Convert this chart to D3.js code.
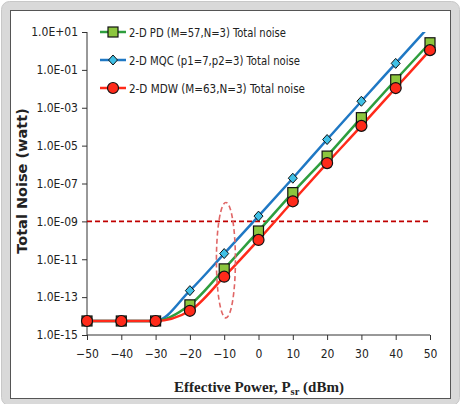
<!doctype html>
<html lang="en">
<head>
<meta charset="utf-8">
<title>Total noise vs effective power</title>
<script src="https://cdn.jsdelivr.net/npm/d3@7"></script>
<style>
  body { margin: 0; background: #fff; }
  svg { display: block; }
  .tick text { font-family: "DejaVu Sans Condensed", sans-serif; font-size: 12px; fill: #222; }
  .domain, .tick line { stroke: #333; }
</style>
</head>
<body>
<svg id="chart" width="465" height="404"></svg>
<script>
// effective power (dBm)
var power = [-50, -40, -30, -20, -10, 0, 10, 20, 30, 40, 50];
// total noise (watt)
var pdNoise  = [5.5e-15, 5.5e-15, 5.5e-15, 3.9e-14, 3.1e-12, 3.1e-10, 3.3e-8, 2.8e-6, 3.0e-4, 3.0e-2, 2.7];
var mqcNoise = [5.5e-15, 5.5e-15, 5.5e-15, 2.2e-13, 2.0e-11, 1.9e-9, 1.9e-7, 2.1e-5, 2.2e-3, 2.2e-1, 22];
var mdwNoise = [5.5e-15, 5.5e-15, 5.5e-15, 1.9e-14, 1.2e-12, 1.05e-10, 1.15e-8, 1.2e-6, 1.1e-4, 1.1e-2, 1.1];
var yTicks = [1e1, 1e-1, 1e-3, 1e-5, 1e-7, 1e-9, 1e-11, 1e-13, 1e-15];
var xTicks = [-50, -40, -30, -20, -10, 0, 10, 20, 30, 40, 50];
var threshold = 1e-9;
var legendLabels = ["2-D PD (M=57,N=3) Total noise", "2-D MQC (p1=7,p2=3) Total noise", "2-D MDW (M=63,N=3) Total noise"];
var legendWidths = [157, 171, 176];

var svg = d3.select("#chart");

// frame
svg.append("rect").attr("x", 1.5).attr("y", 1.5).attr("width", 458).attr("height", 404)
  .attr("rx", 8).attr("fill", "#d9d9d9").attr("stroke", "#c8c8c8");
svg.append("rect").attr("x", 10.5).attr("y", 10.5).attr("width", 440).attr("height", 388)
  .attr("fill", "#fff").attr("stroke", "#555").attr("stroke-width", 1);

var xScale = d3.scaleLinear().domain([-50, 50]).range([87, 430]);
var yScale = d3.scaleLog().domain([1e-15, 10]).range([335, 32]);

svg.append("defs").append("clipPath").attr("id", "plot")
  .append("rect").attr("x", 60).attr("y", 32).attr("width", 390).attr("height", 320);

// axes
var xAxis = d3.axisBottom(xScale).tickValues(xTicks).tickSize(5).tickPadding(9).tickFormat(d3.format("d"));
svg.append("g").attr("transform", "translate(0,335)").call(xAxis)
  .call(function(g) { g.select(".domain").attr("d", "M87,0H430"); });

var yAxis = d3.axisLeft(yScale).tickValues(yTicks).tickSize(5).tickPadding(4)
  .tickFormat(function(d) {
    var e = Math.round(Math.log10(d));
    return "1.0E" + (e < 0 ? "-" : "+") + d3.format("02d")(Math.abs(e));
  });
svg.append("g").attr("transform", "translate(87,0)").call(yAxis)
  .call(function(g) { g.select(".domain").attr("d", "M0,32V335"); });

// axis titles
svg.append("text").attr("transform", "translate(27,181) rotate(-90)")
  .attr("text-anchor", "middle").attr("font-family", "'DejaVu Sans', sans-serif")
  .attr("font-weight", "bold").attr("font-size", 14.5).attr("fill", "#222")
  .text("Total Noise (watt)");

var xt = svg.append("text").attr("x", 259).attr("y", 392).attr("text-anchor", "middle")
  .attr("font-family", "'Liberation Serif', 'DejaVu Serif', serif")
  .attr("font-weight", "bold").attr("font-size", 15).attr("fill", "#222");
xt.append("tspan").text("Effective Power, P");
xt.append("tspan").attr("font-size", 10.5).attr("dy", 3).text("sr");
xt.append("tspan").attr("dy", -3).text(" (dBm)");

// threshold line
svg.append("line").attr("x1", xScale(-50)).attr("x2", xScale(50))
  .attr("y1", yScale(threshold)).attr("y2", yScale(threshold))
  .attr("stroke", "#c00000").attr("stroke-width", 1.8).attr("stroke-dasharray", "5,3");

// series
var series = [
  { values: pdNoise,  line: "#2e9e3e", fill: "#8cc63e", shape: "square" },
  { values: mqcNoise, line: "#1f78c4", fill: "#3fc0e6", shape: "diamond" },
  { values: mdwNoise, line: "#ff2a1a", fill: "#ff2a1a", shape: "circle" }
];

var lineGen = d3.line().curve(d3.curveMonotoneX)
  .x(function(d, i) { return xScale(power[i]); })
  .y(function(d) { return yScale(d); });

var plot = svg.append("g").attr("clip-path", "url(#plot)");

function marker(g, shape, fill) {
  if (shape === "square") {
    g.append("rect").attr("x", -5).attr("y", -5).attr("width", 10).attr("height", 10)
      .attr("fill", fill).attr("stroke", "#111").attr("stroke-width", 1.2);
  } else if (shape === "diamond") {
    g.append("path").attr("d", "M0,-5L4.5,0L0,5L-4.5,0Z")
      .attr("fill", fill).attr("stroke", "#111").attr("stroke-width", 1);
  } else {
    g.append("circle").attr("r", 5.5)
      .attr("fill", fill).attr("stroke", "#111").attr("stroke-width", 1.2);
  }
}

// draw lines first, then markers (MQC drawn below the others like the picture)
var order = [1, 0, 2];
order.forEach(function(k) {
  var s = series[k];
  plot.append("path").attr("d", lineGen(s.values)).attr("fill", "none")
    .attr("stroke", s.line).attr("stroke-width", 2.5);
});
order.forEach(function(k) {
  var s = series[k];
  s.values.forEach(function(v, i) {
    if (v > 10) return;
    var g = plot.append("g").attr("transform", "translate(" + xScale(power[i]) + "," + yScale(v) + ")");
    marker(g, s.shape, s.fill);
  });
});

// dashed ellipse round the -10 dBm points
var eTop = yScale(1e-8), eBot = yScale(8e-15);
svg.append("ellipse").attr("cx", xScale(-9.5)).attr("cy", (eTop + eBot) / 2)
  .attr("rx", 9.5).attr("ry", (eBot - eTop) / 2)
  .attr("fill", "none").attr("stroke", "#e06666").attr("stroke-width", 1.6).attr("stroke-dasharray", "5,3");

// legend
legendLabels.forEach(function(label, i) {
  var s = series[i];
  var y = 32 + i * 28;
  svg.append("line").attr("x1", 100).attr("x2", 126).attr("y1", y).attr("y2", y)
    .attr("stroke", s.line).attr("stroke-width", 2.5);
  var g = svg.append("g").attr("transform", "translate(113," + y + ")");
  marker(g, s.shape, s.fill);
  svg.append("text").attr("x", 129).attr("y", y + 4.5)
    .attr("font-family", "'DejaVu Sans Condensed', sans-serif")
    .attr("font-size", 12.5).attr("fill", "#222")
    .attr("textLength", legendWidths[i]).attr("lengthAdjust", "spacingAndGlyphs")
    .text(label);
});
</script>
</body>
</html>
